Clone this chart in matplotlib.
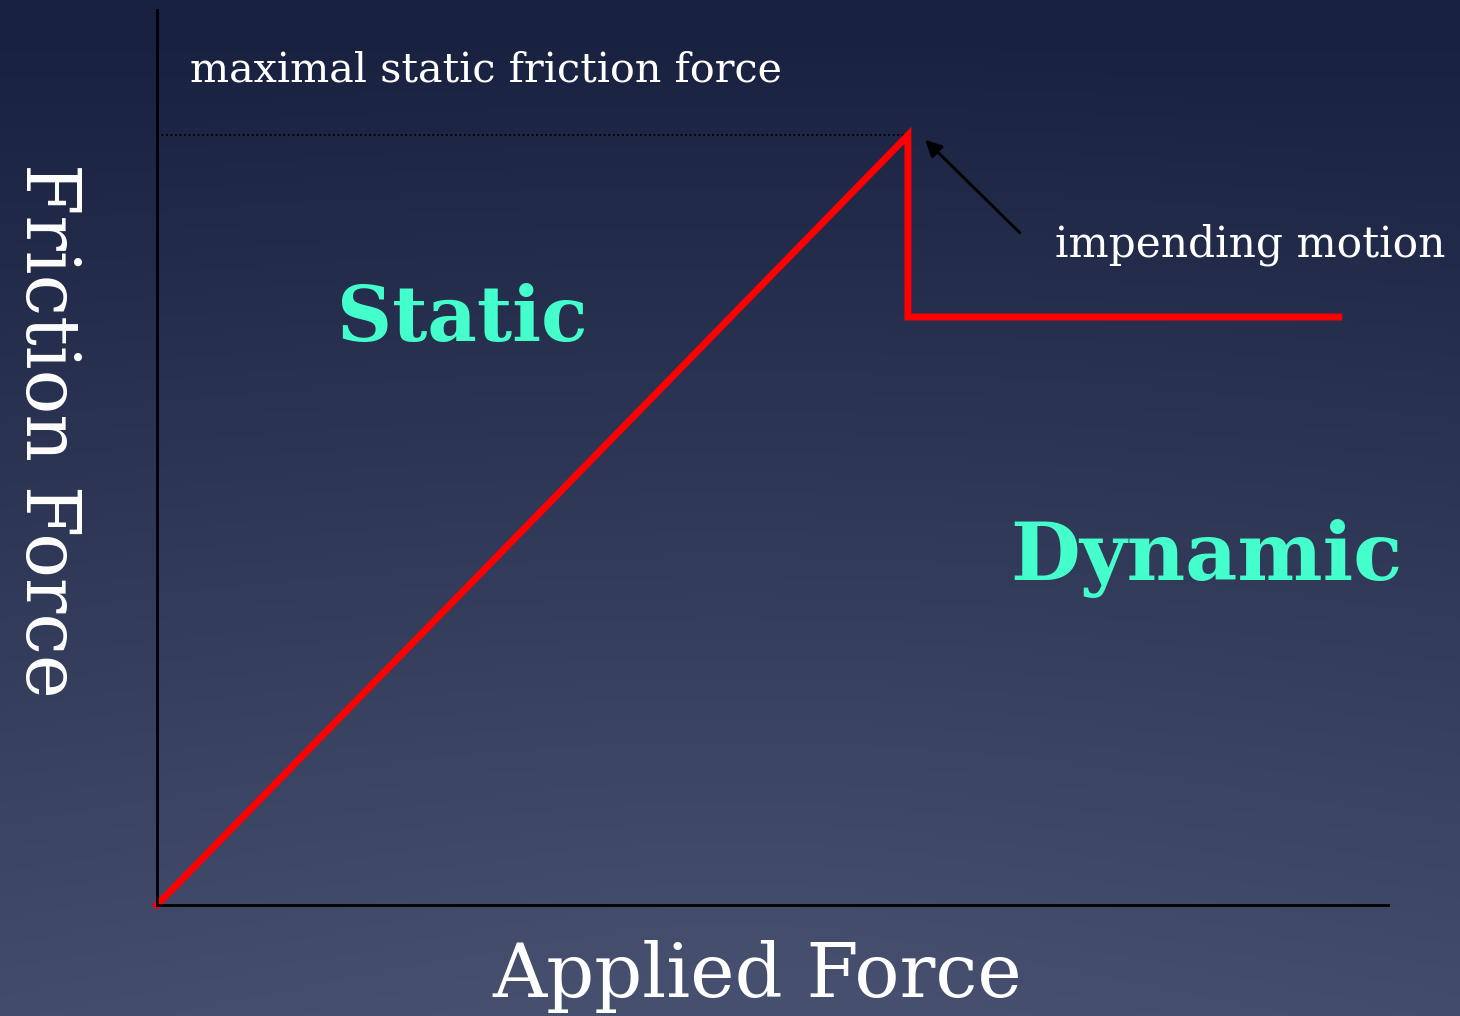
import numpy as np
import matplotlib.pyplot as plt

# friction curve, axes run 0..100 in both directions
applied_force = [0, 61, 61, 96]
friction_force = [0, 86, 65.7, 65.7]
max_static = 86
arrow_tail = (70.1, 75.1)
arrow_head = (62.4, 85.5)

W, H = 1460, 1016
fig = plt.figure(figsize=(W / 100, H / 100), dpi=100)

# slide-like background gradient
bg = fig.add_axes([0, 0, 1, 1], zorder=-1)
yy, xx = np.mgrid[0:1:200j, 0:1:300j]
r = np.sqrt(((xx - 0.5) * 1.2) ** 2 + (1.0 - yy) ** 2)
t = np.clip(yy * 0.85 + (1 - np.clip(r, 0, 1)) * 0.2, 0, 1)
top = np.array([0x18, 0x20, 0x3f]) / 255
bottom = np.array([0x46, 0x4f, 0x6d]) / 255
img = top + (bottom - top) * t[..., None]
bg.imshow(img, aspect="auto", extent=[0, 1, 0, 1], origin="upper")
bg.axis("off")

ax = fig.add_axes([157 / W, (H - 905) / H, (1388 - 157) / W, (905 - 10) / H])
ax.patch.set_alpha(0)
ax.set_xlim(0, 100)
ax.set_ylim(0, 100)
for s in ["top", "right"]:
    ax.spines[s].set_visible(False)
for s in ["left", "bottom"]:
    ax.spines[s].set_color("black")
    ax.spines[s].set_linewidth(2)
ax.set_xticks([])
ax.set_yticks([])

ax.plot([0, applied_force[1]], [max_static, max_static], color="black",
        ls=(0, (1, 1.5)), lw=1.3)
ax.plot(applied_force, friction_force, color="#ff0000", lw=5,
        solid_joinstyle="miter", clip_on=False)
ax.annotate("", xy=arrow_head, xytext=arrow_tail,
            arrowprops=dict(arrowstyle="-|>", color="black", lw=2,
                            mutation_scale=25, shrinkA=0, shrinkB=0))

serif = "DejaVu Serif"
teal = "#44ffcc"
fig.text(190 / W, 1 - 82 / H, "maximal static friction force", color="white",
         family=serif, fontsize=29.8, va="baseline")
fig.text(1055 / W, 1 - 257 / H, "impending motion", color="white",
         family=serif, fontsize=30.5, va="baseline")
fig.text(337 / W, 1 - 341 / H, "Static", color=teal, family=serif,
         fontweight="bold", fontsize=55, va="baseline")
fig.text(1010 / W, 1 - 580 / H, "Dynamic", color=teal, family=serif,
         fontweight="bold", fontsize=58, va="baseline")
fig.text(757 / W, 1 - 997 / H, "Applied Force", color="white", family=serif,
         fontsize=54, ha="center", va="baseline")
fig.text(46 / W, 1 - 430 / H, "Friction Force", color="white", family=serif,
         fontsize=53.4, rotation=270, ha="center", va="center")

fig.savefig("out.png", dpi=100)
